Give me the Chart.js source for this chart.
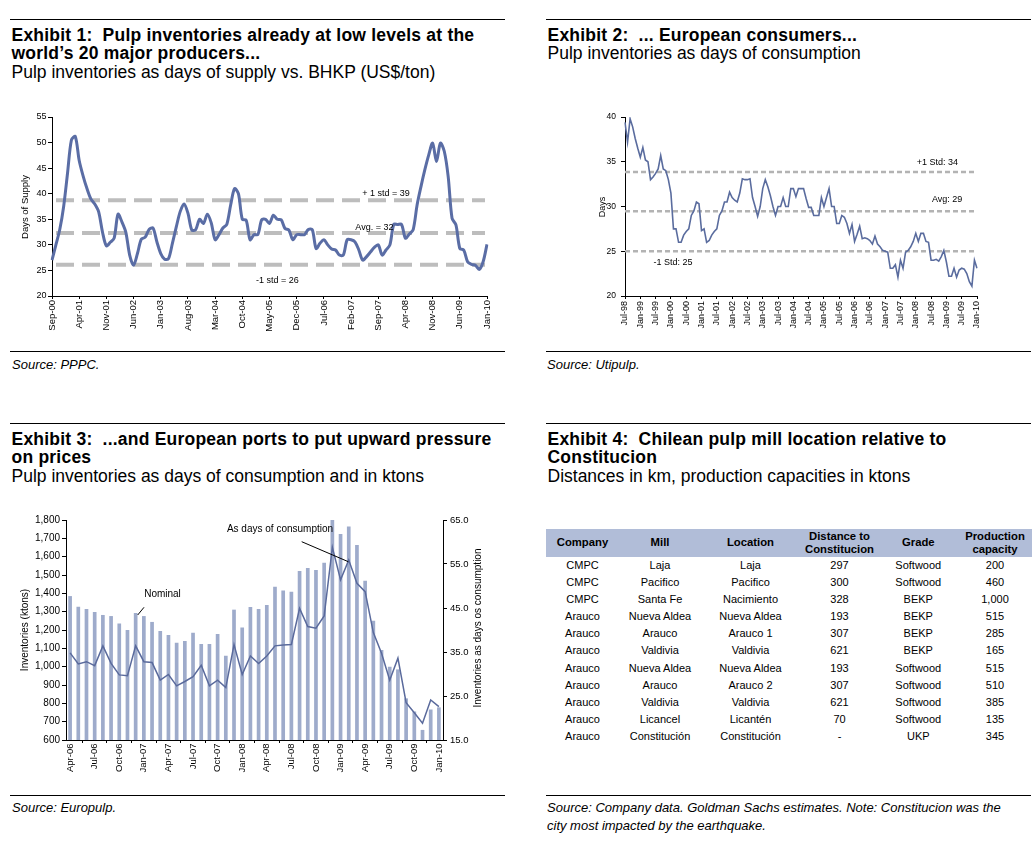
<!DOCTYPE html>
<html>
<head>
<meta charset="utf-8">
<script src="https://cdn.jsdelivr.net/npm/chart.js@4.4.1/dist/chart.umd.min.js"></script>
<style>
  body { margin: 0; background: #fff; width: 1036px; height: 843px; position: relative; overflow: hidden;
         font-family: "Liberation Sans", Arial, sans-serif; color: #000; }
  .rule { position: absolute; height: 1px; background: #000; }
  .title { position: absolute; font-size: 17.5px; line-height: 18.7px; white-space: nowrap; }
  .title b { letter-spacing: 0.22px; }
  .src { position: absolute; font-size: 13px; font-style: italic; line-height: 18px; }
  canvas { position: absolute; }
  table { position: absolute; left: 546px; top: 529px; border-collapse: collapse; font-size: 11px; table-layout: fixed; }
  th { background: #b1bdd8; font-weight: bold; font-size: 11.3px; height: 28px; padding: 0; line-height: 13.5px; text-align: center; }
  td { height: 17.1px; padding: 0; text-align: center; line-height: 17.1px; }
</style>
</head>
<body>

<div class="rule" style="left:10px;top:19px;width:495px"></div>
<div class="rule" style="left:546px;top:19px;width:485px"></div>
<div class="title" style="left:11.5px;top:25.6px"><b>Exhibit 1:&nbsp; Pulp inventories already at low levels at the<br>world’s 20 major producers...</b><br>Pulp inventories as days of supply vs. BHKP (US$/ton)</div>
<div class="title" style="left:547.5px;top:25.6px"><b>Exhibit 2:&nbsp; ... European consumers...</b><br>Pulp inventories as days of consumption</div>
<canvas id="c1" width="500" height="240" style="left:0;top:100px"></canvas>
<canvas id="c2" width="490" height="240" style="left:545px;top:100px"></canvas>
<div class="rule" style="left:10px;top:351px;width:495px"></div>
<div class="rule" style="left:546px;top:351px;width:485px"></div>
<div class="src" style="left:12px;top:356px">Source: PPPC.</div>
<div class="src" style="left:547px;top:356px">Source: Utipulp.</div>

<div class="rule" style="left:10px;top:423px;width:495px"></div>
<div class="rule" style="left:546px;top:423px;width:485px"></div>
<div class="title" style="left:11.5px;top:429.6px"><b>Exhibit 3:&nbsp; ...and European ports to put upward pressure<br>on prices</b><br>Pulp inventories as days of consumption and in ktons</div>
<div class="title" style="left:547.5px;top:429.6px"><b>Exhibit 4:&nbsp; Chilean pulp mill location relative to<br>Constitucion</b><br>Distances in km, production capacities in ktons</div>
<canvas id="c3" width="500" height="285" style="left:0;top:500px"></canvas>
<table id="mills"></table>
<div class="rule" style="left:10px;top:795px;width:495px"></div>
<div class="rule" style="left:546px;top:795px;width:485px"></div>
<div class="src" style="left:12px;top:799px">Source: Europulp.</div>
<div class="src" style="left:547px;top:799px">Source: Company data. Goldman Sachs estimates. Note: Constitucion was the<br>city most impacted by the earthquake.</div>

<script>
// ---- Exhibit 1: days of supply, monthly Sep-00 .. Jan-10
const ex1Days = [27, 30, 33, 37.5, 44, 50.5, 51.2, 46.5, 43.5, 41, 39, 38, 36.5, 32.5, 29.8, 30.5,
  31.3, 36, 34.5, 32.5, 28, 26, 28.3, 31.1, 31.5, 33, 33.3, 30.6, 28.3, 27.2, 27.3, 30.3,
  33.5, 36.5, 38, 36.2, 32.9, 33, 35, 34.2, 36, 34.3, 31, 32, 33.3, 34, 37.8, 41,
  40, 35, 34.8, 31, 32, 32, 34.9, 35, 34.2, 35.8, 35, 34.9, 33.2, 32.9, 31, 32,
  32, 32, 33, 33, 29.3, 30.3, 31, 30, 29.2, 29, 28, 28, 31, 31, 30.6, 29,
  27, 27.7, 28.6, 29.5, 30, 28, 29, 30, 34, 34, 34, 31.3, 32.1, 33, 37.8, 41.4,
  44.7, 47.6, 49.9, 46.3, 49.9, 48.3, 43.4, 35.2, 33.9, 29.3, 29, 26.7, 26.2, 26, 25.2, 26.7, 30.1];
const ex1Ticks = ['Sep-00', 'Apr-01', 'Nov-01', 'Jun-02', 'Jan-03', 'Aug-03', 'Mar-04', 'Oct-04', 'May-05',
  'Dec-05', 'Jul-06', 'Feb-07', 'Sep-07', 'Apr-08', 'Nov-08', 'Jun-09', 'Jan-10'];
const ex1Std = [38.7, 32.3, 26.1];
const ex1StdLabels = ['+ 1 std = 39', 'Avg. = 32', '-1 std = 26'];

// ---- Exhibit 2: days of consumption, monthly Jul-98 .. Jan-10
const ex2Days = [39.4, 37.2, 39.8, 38.9, 37.6, 36.5, 35.5, 36.6, 35.2, 35.0,
  33.0, 33.3, 33.7, 34.2, 35.7, 34.2, 34.0, 33.0, 31.5, 27.5,
  27.5, 26.0, 26.0, 26.8, 27.2, 27.5, 29.0, 29.5, 30.5, 30.3,
  27.3, 27.5, 26.0, 26.2, 26.8, 27.2, 27.5, 29.0, 29.5, 30.5,
  30.5, 31.6, 31.0, 30.7, 30.5, 31.5, 33.1, 33.0, 33.0, 33.1,
  31.0, 30.0, 28.9, 30.0, 32.0, 33.0, 32.2, 31.2, 30.0, 29.0,
  30.0, 30.0, 31.0, 30.0, 30.0, 32.0, 32.0, 31.1, 32.0, 32.0,
  32.0, 30.9, 29.9, 29.9, 29.0, 29.0, 29.0, 31.0, 30.0, 31.0,
  32.0, 30.0, 30.0, 28.1, 28.1, 29.0, 28.8, 28.1, 27.0, 28.0,
  26.1, 26.9, 27.8, 26.4, 26.5, 26.4, 26.2, 25.8, 26.7, 25.8,
  25.5, 25.1, 25.0, 24.9, 23.1, 23.1, 23.5, 22.1, 24.0, 23.1,
  24.9, 25.1, 25.5, 26.1, 27.0, 26.1, 27.0, 27.0, 26.1, 26.0,
  24.0, 24.0, 24.1, 23.9, 24.4, 25.1, 23.8, 22.2, 22.2, 23.1,
  22.1, 22.9, 23.1, 23.0, 22.5, 21.6, 21.1, 24.0, 23.1];
const ex2Ticks = ['Jul-98', 'Jan-99', 'Jul-99', 'Jan-00', 'Jul-00', 'Jan-01', 'Jul-01', 'Jan-02', 'Jul-02',
  'Jan-03', 'Jul-03', 'Jan-04', 'Jul-04', 'Jan-05', 'Jul-05', 'Jan-06', 'Jul-06', 'Jan-07', 'Jul-07',
  'Jan-08', 'Jul-08', 'Jan-09', 'Jul-09', 'Jan-10'];
const ex2Std = [33.85, 29.46, 25.0];
const ex2StdLabels = ['+1 Std: 34', 'Avg: 29', '-1 Std: 25'];

// ---- Exhibit 3: European ports, monthly Apr-06 .. Jan-10
const ex3Ktons = [1385, 1327, 1315, 1298, 1282, 1276, 1235, 1200, 1293, 1276,
  1244, 1195, 1173, 1131, 1140, 1185, 1124, 1124, 1178, 1060,
  1311, 1213, 1325, 1315, 1336, 1436, 1415, 1409, 1522, 1538,
  1527, 1567, 1800, 1724, 1764, 1664, 1469, 1251, 1091, 1000,
  985, 827, 755, 655, 767, 778];
const ex3Days = [34.8, 32.3, 32.8, 31.9, 36.4, 32.4, 29.8, 29.6, 36.4, 32.8,
  32.6, 28.6, 29.9, 27.3, 28.3, 29.4, 32.0, 27.3, 28.6, 26.9,
  36.7, 29.9, 34.1, 32.4, 34.1, 36.4, 36.6, 36.7, 44.9, 40.8,
  40.4, 43.2, 58.8, 51.4, 55.9, 50.6, 48.7, 39.4, 34.7, 28.6,
  33.6, 23.5, 21.2, 18.8, 24.1, 22.6];
const ex3Ticks = ['Apr-06', 'Jul-06', 'Oct-06', 'Jan-07', 'Apr-07', 'Jul-07', 'Oct-07', 'Jan-08', 'Apr-08',
  'Jul-08', 'Oct-08', 'Jan-09', 'Apr-09', 'Jul-09', 'Oct-09', 'Jan-10'];

// ---- Exhibit 4: Chilean mills
const millCompany = ['CMPC', 'CMPC', 'CMPC', 'Arauco', 'Arauco', 'Arauco', 'Arauco', 'Arauco', 'Arauco', 'Arauco', 'Arauco'];
const millName = ['Laja', 'Pacifico', 'Santa Fe', 'Nueva Aldea', 'Arauco', 'Valdivia', 'Nueva Aldea', 'Arauco', 'Valdivia', 'Licancel', 'Constitución'];
const millLocation = ['Laja', 'Pacifico', 'Nacimiento', 'Nueva Aldea', 'Arauco 1', 'Valdivia', 'Nueva Aldea', 'Arauco 2', 'Valdivia', 'Licantén', 'Constitución'];
const millDistance = ['297', '300', '328', '193', '307', '621', '193', '307', '621', '70', '-'];
const millGrade = ['Softwood', 'Softwood', 'BEKP', 'BEKP', 'BEKP', 'BEKP', 'Softwood', 'Softwood', 'Softwood', 'Softwood', 'UKP'];
const millCapacity = [200, 460, 1000, 515, 285, 165, 515, 510, 385, 135, 345];

const FONT = '"Liberation Sans", Arial, sans-serif';
Chart.defaults.font.family = FONT;
Chart.defaults.color = '#000';
Chart.defaults.animation = false;
Chart.defaults.plugins.legend.display = false;
Chart.defaults.plugins.tooltip.enabled = false;

// month labels like 'Sep-00' for each data point
function months(start, count) {
  const names = ['Jan','Feb','Mar','Apr','May','Jun','Jul','Aug','Sep','Oct','Nov','Dec'];
  let mi = names.indexOf(start.slice(0, 3)), yr = +start.slice(4);
  const out = [];
  for (let i = 0; i < count; i++) {
    out.push(names[mi] + '-' + String(yr % 100).padStart(2, '0'));
    if (++mi === 12) { mi = 0; yr++; }
  }
  return out;
}

// dashed reference lines + their labels
const refLines = {
  id: 'refLines',
  beforeDatasetsDraw(chart, args, o) {
    const { ctx, chartArea: a, scales } = chart;
    ctx.save();
    ctx.strokeStyle = o.color; ctx.lineWidth = o.width; ctx.setLineDash(o.dash);
    o.values.forEach(v => {
      const py = scales.y.getPixelForValue(v);
      ctx.beginPath(); ctx.moveTo(a.left + o.inset, py); ctx.lineTo(a.right - 2, py); ctx.stroke();
    });
    ctx.restore();
  },
  afterDatasetsDraw(chart, args, o) {
    const { ctx, scales } = chart;
    ctx.save();
    ctx.font = o.font; ctx.fillStyle = '#000'; ctx.textAlign = 'center'; ctx.textBaseline = 'middle';
    o.notes.forEach((n, i) => {
      ctx.fillText(o.labels[i], scales.x.getPixelForValue(n.at), scales.y.getPixelForValue(o.values[i]) + n.dy);
    });
    ctx.restore();
  }
};

// rotated axis titles (reading bottom to top) and free text
const texts = {
  id: 'texts',
  afterDraw(chart, args, o) {
    const { ctx } = chart;
    ctx.save();
    ctx.fillStyle = '#000'; ctx.textAlign = 'center'; ctx.textBaseline = 'middle';
    o.items.forEach(t => {
      ctx.font = t.font;
      ctx.save(); ctx.translate(t.x, t.y); if (t.rot) ctx.rotate(-Math.PI / 2);
      ctx.fillText(t.text, 0, 0); ctx.restore();
    });
    ctx.strokeStyle = '#000'; ctx.lineWidth = 1;
    (o.leaders || []).forEach(l => { ctx.beginPath(); ctx.moveTo(l[0], l[1]); ctx.lineTo(l[2], l[3]); ctx.stroke(); });
    ctx.restore();
  }
};

function xAxis(ticks, height, size, tickLen, pad) {
  return {
    afterFit: s => { s.height = height; },
    border: { color: '#000' },
    grid: { drawOnChartArea: false, tickLength: tickLen, color: '#000' },
    ticks: {
      autoSkip: false, minRotation: 90, maxRotation: 90, padding: pad, font: { size },
      callback: function (v) { const l = this.getLabelForValue(v); return ticks.includes(l) ? l : null; }
    }
  };
}

// Exhibit 1
new Chart(document.getElementById('c1'), {
  type: 'line',
  data: {
    labels: months('Sep-00', ex1Days.length),
    datasets: [{ data: ex1Days, borderColor: '#5a6da5', borderWidth: 3, pointRadius: 0, tension: 0.3 }]
  },
  options: {
    responsive: false, devicePixelRatio: 1,
    layout: { padding: { left: 0, right: 13, top: 17, bottom: 6 } },
    scales: {
      x: xAxis(ex1Ticks, 38, 9.5, 3, 1),
      y: {
        min: 20, max: 55, afterFit: s => { s.width = 52; },
        border: { color: '#000' }, grid: { drawOnChartArea: false, tickLength: 4, color: '#000' },
        ticks: { stepSize: 5, padding: 1.5, font: { size: 9 } }
      }
    },
    plugins: {
      refLines: { values: ex1Std, labels: ex1StdLabels, color: '#bdbdbd', width: 4, dash: [18, 8], inset: 4,
        font: '9px ' + FONT, notes: [{ at: 86, dy: -7 }, { at: 83, dy: -6 }, { at: 58, dy: 16 }] },
      texts: { items: [{ text: 'Days of Supply', x: 25, y: 107, rot: true, font: '9.5px ' + FONT }] }
    }
  },
  plugins: [refLines, texts]
});

// Exhibit 2
new Chart(document.getElementById('c2'), {
  type: 'line',
  data: {
    labels: months('Jul-98', ex2Days.length),
    datasets: [{ data: ex2Days, borderColor: '#5a6c9e', borderWidth: 1.6, pointRadius: 0, tension: 0 }]
  },
  options: {
    responsive: false, devicePixelRatio: 1,
    layout: { padding: { left: 0, right: 58, top: 17, bottom: 6 } },
    scales: {
      x: xAxis(ex2Ticks, 38, 9, 3, 2),
      y: {
        min: 20, max: 40, afterFit: s => { s.width = 80; },
        border: { color: '#000' }, grid: { drawOnChartArea: false, tickLength: 4, color: '#000' },
        ticks: { stepSize: 5, padding: 5, font: { size: 8.5 } }
      }
    },
    plugins: {
      refLines: { values: ex2Std, labels: ex2StdLabels, color: '#b3b3b3', width: 2.5, dash: [5, 3], inset: 0,
        font: '9px ' + FONT, notes: [{ at: 122.5, dy: -10 }, { at: 126.3, dy: -12 }, { at: 18.8, dy: 11 }] },
      texts: { items: [{ text: 'Days', x: 58, y: 107, rot: true, font: '9px ' + FONT }] }
    }
  },
  plugins: [refLines, texts]
});

// Exhibit 3
new Chart(document.getElementById('c3'), {
  type: 'bar',
  data: {
    labels: months('Apr-06', ex3Ktons.length),
    datasets: [
      { type: 'line', data: ex3Days, yAxisID: 'y1', order: 0, borderColor: '#5a6a9c', borderWidth: 1.5, pointRadius: 0, tension: 0 },
      { data: ex3Ktons, yAxisID: 'y', order: 1, backgroundColor: '#9eabcb', barPercentage: 0.45, categoryPercentage: 1 }
    ]
  },
  options: {
    responsive: false, devicePixelRatio: 1,
    layout: { padding: { left: 0, right: 0, top: 20, bottom: 7 } },
    scales: {
      x: xAxis(ex3Ticks, 38, 9.5, 3, 0.5),
      y: {
        position: 'left', min: 600, max: 1800, afterFit: s => { s.width = 66; },
        border: { color: '#000' }, grid: { drawOnChartArea: false, tickLength: 4, color: '#000' },
        ticks: { stepSize: 100, padding: 2, font: { size: 10 }, callback: v => v.toLocaleString('en-US') }
      },
      y1: {
        position: 'right', min: 15, max: 65, afterFit: s => { s.width = 57; },
        border: { color: '#000' }, grid: { drawOnChartArea: false, tickLength: 4, color: '#000' },
        ticks: { stepSize: 10, padding: 3, font: { size: 9.5 }, callback: v => v.toFixed(1) }
      }
    },
    plugins: {
      texts: {
        items: [
          { text: 'Inventories (ktons)', x: 25, y: 130, rot: true, font: '10px ' + FONT },
          { text: 'Inventories as days os consumption', x: 478, y: 128, rot: true, font: '10px ' + FONT },
          { text: 'Nominal', x: 162.5, y: 94, font: '10px ' + FONT },
          { text: 'As days of consumption', x: 280, y: 29, font: '10px ' + FONT }
        ],
        leaders: [[144, 107.3, 137.7, 115], [301.7, 41.7, 348.3, 61.7]]
      }
    }
  },
  plugins: [texts]
});

// Exhibit 4 table
function renderMills() {
  const t = document.getElementById('mills');
  const widths = [73, 82, 99, 79, 78.6, 74.8];
  const head = ['Company', 'Mill', 'Location', 'Distance to<br>Constitucion', 'Grade', 'Production<br>capacity'];
  t.innerHTML = '<colgroup>' + widths.map(w => `<col style="width:${w}px">`).join('') + '</colgroup>' +
    '<tr>' + head.map(h => `<th>${h}</th>`).join('') + '</tr>' +
    millCompany.map((c, i) => `
      <tr><td>${c}</td><td>${millName[i]}</td><td>${millLocation[i]}</td>
      <td>${millDistance[i]}</td><td>${millGrade[i]}</td><td>${millCapacity[i].toLocaleString('en-US')}</td></tr>`).join('');
}
renderMills();
</script>
</body>
</html>
